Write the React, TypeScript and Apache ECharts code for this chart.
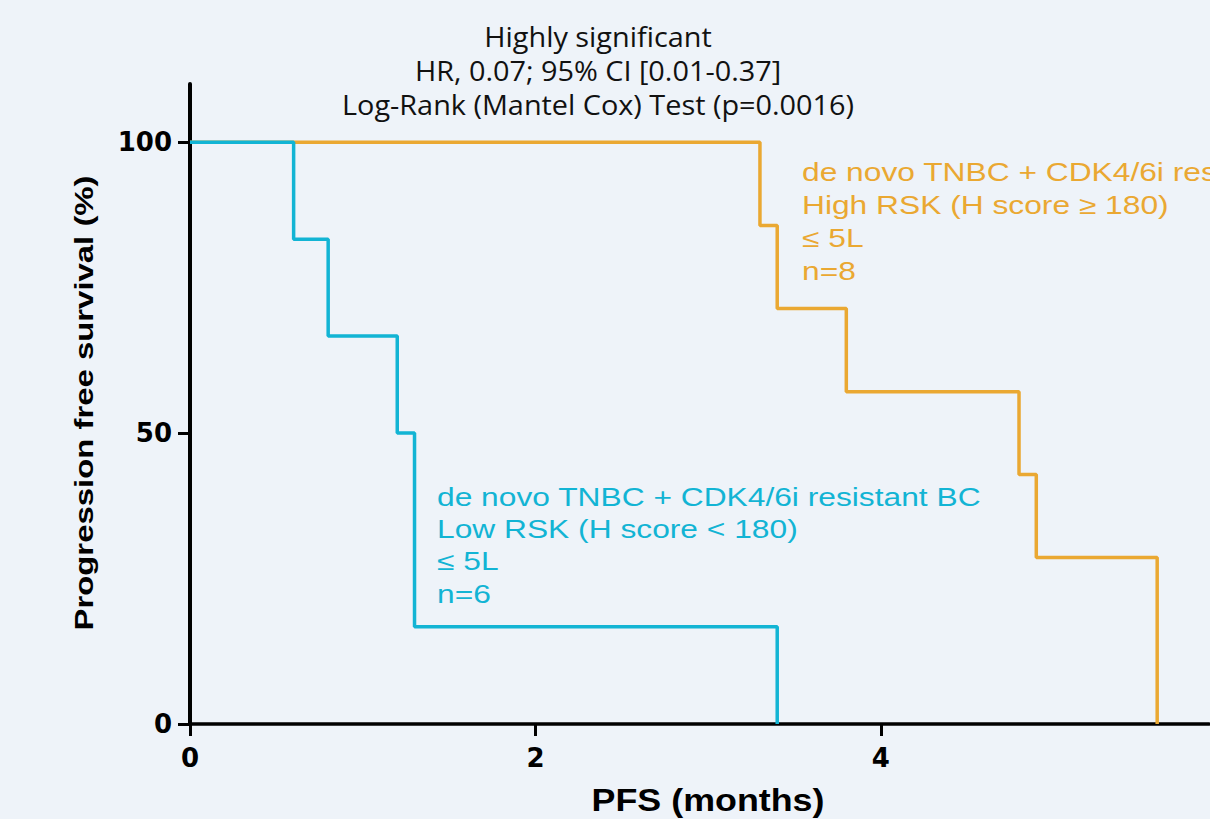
import React, { useEffect, useRef } from "react";
import * as echarts from "echarts";

const lowTimes = [0, 0.6, 0.8, 1.2, 1.3, 3.4];
const lowSurv = [100, 83.3, 66.7, 50, 16.7, 0];
const highTimes = [0, 3.3, 3.4, 3.8, 4.8, 4.9, 5.6];
const highSurv = [100, 85.7, 71.4, 57.1, 42.9, 28.6, 0];

const xTicks = [0, 2, 4];
const yTicks = [0, 50, 100];

const titleLines = [
  "Highly significant",
  "HR, 0.07; 95% CI [0.01-0.37]",
  "Log-Rank (Mantel Cox) Test (p=0.0016)",
];
const highLabel = ["de novo TNBC + CDK4/6i resistant BC", "High RSK (H score \u2265 180)", "\u2264 5L", "n=8"];
const lowLabel = ["de novo TNBC + CDK4/6i resistant BC", "Low RSK (H score < 180)", "\u2264 5L", "n=6"];
const xTitle = "PFS (months)";
const yTitle = "Progression free survival (%)";

const CYAN = "#12b4d4";
const ORANGE = "#eaa832";
const BG = "#eef3f9";

export default function App() {
  const ref = useRef<HTMLDivElement>(null);
  useEffect(() => {
    const chart = echarts.init(ref.current!, null, { renderer: "svg" });
    const toPairs = (xs: number[], ys: number[]) => xs.map((x, i) => [x, ys[i]]);
    const graphic: any[] = [];
    graphic.push({
      type: "text",
      x: 598,
      y: 19,
      scaleX: 1.03,
      style: {
        text: titleLines.join("\n"),
        font: '28px "Open Sans"',
        lineHeight: 34,
        fill: "#111",
        textAlign: "center",
        textVerticalAlign: "top",
      },
    });
    highLabel.forEach((t, i) => {
      graphic.push({
        type: "text",
        x: 802,
        y: 172 + i * 33,
        scaleX: 1.27,
        style: {
          text: t,
          font: '25px "Liberation Sans"',
          fill: ORANGE,
          textAlign: "left",
          textVerticalAlign: "middle",
        },
      });
    });
    lowLabel.forEach((t, i) => {
      graphic.push({
        type: "text",
        x: 437,
        y: 497 + i * 32.3,
        scaleX: 1.27,
        style: {
          text: t,
          font: '25px "Liberation Sans"',
          fill: CYAN,
          textAlign: "left",
          textVerticalAlign: "middle",
        },
      });
    });
    graphic.push({
      type: "text",
      x: 84,
      y: 403,
      rotation: Math.PI / 2,
      scaleX: 1.29,
      style: {
        text: yTitle,
        font: 'bold 25.5px "Liberation Sans"',
        fill: "#000",
        textAlign: "center",
        textVerticalAlign: "middle",
      },
    });
    graphic.push({
      type: "text",
      x: 708,
      y: 800,
      scaleX: 1.12,
      style: {
        text: xTitle,
        font: 'bold 32px "Liberation Sans"',
        fill: "#000",
        textAlign: "center",
        textVerticalAlign: "middle",
      },
    });

    chart.setOption({
      animation: false,
      backgroundColor: BG,
      grid: { left: 190, top: 84, right: 1, bottom: 95, containLabel: false, outerBoundsMode: "none" },
      xAxis: {
        type: "value",
        min: 0,
        max: 5.9,
        interval: 2,
        axisLine: { show: true, onZero: false, lineStyle: { color: "#000", width: 3.5 } },
        axisTick: { show: true, length: 12, customValues: xTicks, lineStyle: { color: "#000", width: 3 } },
        axisLabel: {
          customValues: xTicks,
          margin: 21,
          color: "#000",
          fontFamily: "DejaVu Sans",
          fontWeight: "bold",
          fontSize: 26,
        },
        splitLine: { show: false },
      },
      yAxis: {
        type: "value",
        min: 0,
        max: 110,
        interval: 50,
        axisLine: { show: true, onZero: false, lineStyle: { color: "#000", width: 4 } },
        axisTick: { show: true, length: 12, customValues: yTicks, lineStyle: { color: "#000", width: 3 } },
        axisLabel: {
          customValues: yTicks,
          margin: 18,
          color: "#000",
          fontFamily: "DejaVu Sans",
          fontWeight: "bold",
          fontSize: 26,
        },
        splitLine: { show: false },
      },
      series: [
        {
          type: "line",
          step: "end",
          data: toPairs(highTimes, highSurv),
          symbol: "none",
          lineStyle: { color: ORANGE, width: 3.5 },
          z: 2,
        },
        {
          type: "line",
          step: "end",
          data: toPairs(lowTimes, lowSurv),
          symbol: "none",
          lineStyle: { color: CYAN, width: 3.5 },
          z: 3,
        },
      ],
      graphic,
    });
    return () => chart.dispose();
  }, []);
  return (
    <div
      ref={ref}
      style={{ position: "fixed", left: 0, top: 0, width: 1210, height: 819, background: BG }}
    />
  );
}
